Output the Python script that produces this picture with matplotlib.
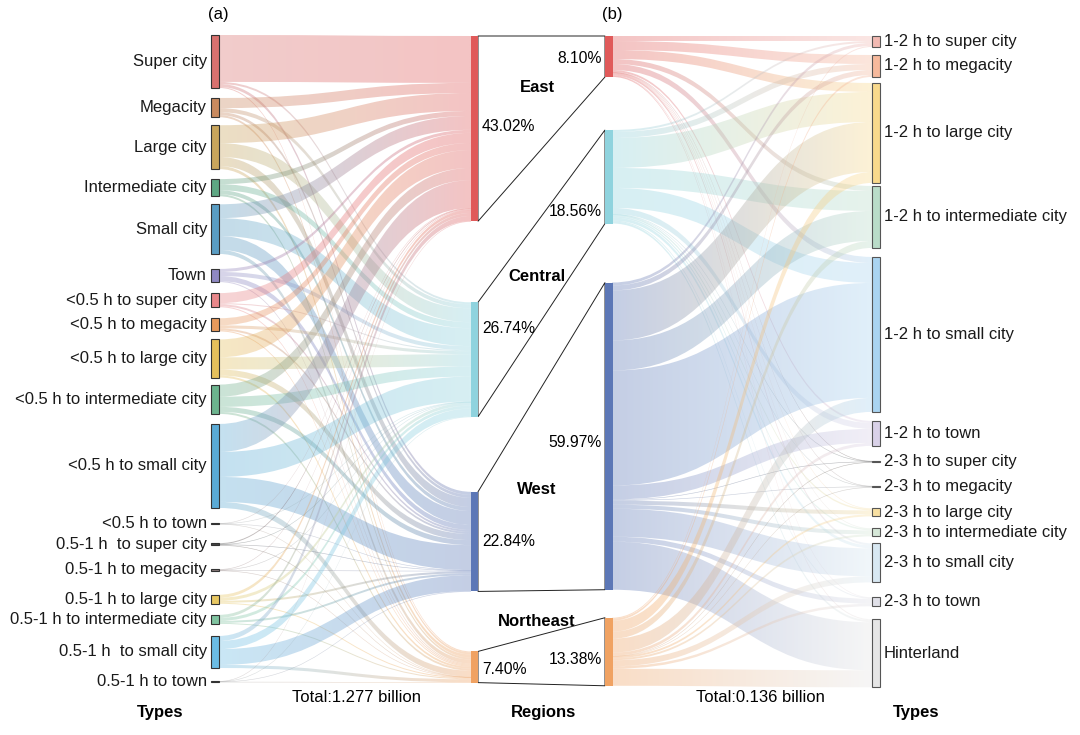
import numpy as np
import matplotlib
matplotlib.use('Agg')
from matplotlib import pyplot as plt
from matplotlib.path import Path
from matplotlib.patches import PathPatch, Rectangle, Polygon
from matplotlib.colors import to_rgb

plt.rcParams['font.family'] = ['Liberation Sans', 'DejaVu Sans']

# ---- data (million people) ----
left_types = ['Super city', 'Megacity', 'Large city', 'Intermediate city', 'Small city', 'Town',
              '<0.5 h to super city', '<0.5 h to megacity', '<0.5 h to large city',
              '<0.5 h to intermediate city', '<0.5 h to small city', '<0.5 h to town',
              '0.5-1 h  to super city', '0.5-1 h to megacity', '0.5-1 h to large city',
              '0.5-1 h to intermediate city', '0.5-1 h  to small city', '0.5-1 h to town']
regions = ['East', 'Central', 'West', 'Northeast']
right_types = ['1-2 h to super city', '1-2 h to megacity', '1-2 h to large city',
               '1-2 h to intermediate city', '1-2 h to small city', '1-2 h to town',
               '2-3 h to super city', '2-3 h to megacity', '2-3 h to large city',
               '2-3 h to intermediate city', '2-3 h to small city', '2-3 h to town', 'Hinterland']

# type -> region  (East, Central, West, Northeast)
left_flows = [
    [139, 6, 9, 3],
    [30, 12, 9, 6],
    [53, 41, 27, 9],
    [15, 18, 12, 6],
    [41, 53, 41, 12],
    [9, 12, 15, 3],
    [30, 3, 6, 3],
    [21, 9, 6, 3],
    [53, 36, 18, 6],
    [36, 30, 15, 6],
    [83, 74, 74, 18],
    [0.9, 0.6, 0.6, 0.3],
    [3, 0.9, 1.5, 0.6],
    [1.5, 1.2, 1.2, 0.6],
    [9, 9, 6, 3],
    [9, 9, 6, 3],
    [15, 24, 47, 9],
    [0.6, 0.6, 0.9, 0.9],
]
# region -> type
right_flows = [
    [1.33, 2.40, 2.40, 1.33, 1.60, 0.53, 0.08, 0.08, 0.13, 0.13, 0.53, 0.11, 0.27],
    [0.53, 1.60, 8.00, 5.33, 5.33, 1.60, 0.08, 0.08, 0.40, 0.40, 0.80, 0.27, 0.53],
    [0.80, 1.33, 13.33, 8.00, 30.67, 3.73, 0.16, 0.16, 1.07, 1.07, 7.47, 1.33, 12.80],
    [0.27, 0.53, 2.93, 1.87, 3.73, 0.80, 0.08, 0.08, 0.53, 0.53, 1.60, 0.67, 4.53],
]
left_pct = ['43.02%', '26.74%', '22.84%', '7.40%']
right_pct = ['8.10%', '18.56%', '59.97%', '13.38%']
total_left = 'Total:1.277 billion'
total_right = 'Total:0.136 billion'

# ---- styles / layout ----
left_colors = ['#d9716f', '#c98a5f', '#c8a55c', '#5ea783', '#5a9dc3', '#8f88c2',
               '#e8878a', '#e89a5c', '#e5c05c', '#6cb48e', '#5aaad5', '#999999',
               '#444444', '#8a7a7a', '#e8c862', '#80c4a0', '#6bbce4', '#999999']
region_colors = ['#e05a5a', '#8fd3de', '#5c77b6', '#f0a262']
right_colors = ['#f2b9b2', '#f6b99c', '#f8d98c', '#b9dcc8', '#aad4f1', '#d9d1e8',
                '#444444', '#888888', '#f8e0a2', '#d6e8d8', '#d8e8f2', '#e0e0e8', '#e6e6e6']

left_scale = 0.3375
right_scale = 3.75
left_gaps = [10, 8, 10, 8, 15, 11, 11, 8, 7, 10, 15, 19, 24, 24, 11, 12, 13]
lreg_gaps = [81, 75, 60]
rreg_gaps = [53, 59, 28]
right_gaps = [8, 6, 3, 9, 9, 15, 23.5, 21, 12, 7, 15, 13]
x_lt, x_lr, x_rr, x_rt = 211, 471, 605, 872
w_node, w_reg = 8, 7
alpha = 0.36
fs = 12


def stack(values, top, gaps, scale, min_h=1.2):
    tops, hs = [], []
    y = top
    for i, v in enumerate(values):
        h = max(v * scale, min_h)
        tops.append(y)
        hs.append(h)
        if i < len(gaps):
            y += h + gaps[i]
    return tops, hs


def link(ax, x0, a0, b0, x1, a1, b1, c0, c1):
    if b0 - a0 < 0.6:
        b0 = a0 + 0.6
    if b1 - a1 < 0.6:
        b1 = a1 + 0.6
    xm = (x0 + x1) / 2
    verts = [(x0, a0), (xm, a0), (xm, a1), (x1, a1), (x1, b1), (xm, b1), (xm, b0), (x0, b0), (x0, a0)]
    codes = [Path.MOVETO, Path.CURVE4, Path.CURVE4, Path.CURVE4, Path.LINETO,
             Path.CURVE4, Path.CURVE4, Path.CURVE4, Path.CLOSEPOLY]
    patch = PathPatch(Path(verts, codes), fc='none', ec='none')
    ax.add_patch(patch)
    t = np.linspace(0, 1, 64)[:, None]
    rgb = (1 - t) * np.array(to_rgb(c0)) + t * np.array(to_rgb(c1))
    img = np.concatenate([rgb, np.full((64, 1), alpha)], axis=1)[None, :, :]
    im = ax.imshow(img, extent=(x0, x1, max(b0, b1) + 1, min(a0, a1) - 1),
                   aspect='auto', interpolation='bilinear', zorder=1)
    im.set_clip_path(patch)


fig = plt.figure(figsize=(10.8, 7.35), dpi=100)
ax = fig.add_axes([0, 0, 1, 1])

lf = np.array(left_flows)
rf = np.array(right_flows)

lt_tops, lt_h = stack(lf.sum(axis=1), 35, left_gaps, left_scale)
lr_tops, lr_h = stack(lf.sum(axis=0), 36, lreg_gaps, left_scale)
rr_tops, rr_h = stack(rf.sum(axis=1), 36, rreg_gaps, right_scale)
rt_tops, rt_h = stack(rf.sum(axis=0), 36, right_gaps, right_scale, min_h=1.5)

# left links
src_off = [t + max(0, (h - lf[i].sum() * left_scale) / 2) for i, (t, h) in enumerate(zip(lt_tops, lt_h))]
dst_off = list(lr_tops)
for i in range(len(left_types)):
    for j in range(len(regions)):
        w = lf[i, j] * left_scale
        link(ax, x_lt + w_node, src_off[i], src_off[i] + w, x_lr, dst_off[j], dst_off[j] + w,
             left_colors[i], region_colors[j])
        src_off[i] += w
        dst_off[j] += w

# right links
src_off = list(rr_tops)
dst_off = [t + max(0, (h - rf[:, k].sum() * right_scale) / 2) for k, (t, h) in enumerate(zip(rt_tops, rt_h))]
for j in range(len(regions)):
    for k in range(len(right_types)):
        w = rf[j, k] * right_scale
        link(ax, x_rr + w_reg, src_off[j], src_off[j] + w, x_rt, dst_off[k], dst_off[k] + w,
             region_colors[j], right_colors[k])
        src_off[j] += w
        dst_off[k] += w

# region connecting polygons
for j in range(len(regions)):
    poly = Polygon([(x_lr + w_reg, lr_tops[j]), (x_rr, rr_tops[j]),
                    (x_rr, rr_tops[j] + rr_h[j]), (x_lr + w_reg, lr_tops[j] + lr_h[j])],
                   closed=True, fc='white', ec='#222222', lw=0.7, zorder=2)
    ax.add_patch(poly)

# nodes
for i, name in enumerate(left_types):
    ax.add_patch(Rectangle((x_lt, lt_tops[i]), w_node, lt_h[i], fc=left_colors[i],
                           ec='#333333', lw=0.8, zorder=4))
    ax.text(x_lt - 4, lt_tops[i] + lt_h[i] / 2, name, ha='right', va='center', fontsize=fs, color='#1a1a1a')
for j in range(len(regions)):
    ax.add_patch(Rectangle((x_lr, lr_tops[j]), w_reg, lr_h[j], fc=region_colors[j], ec='none', zorder=4))
    ax.add_patch(Rectangle((x_rr, rr_tops[j]), w_reg + 1, rr_h[j], fc=region_colors[j], ec='none', zorder=4))
for k, name in enumerate(right_types):
    ax.add_patch(Rectangle((x_rt, rt_tops[k]), w_node, rt_h[k], fc=right_colors[k],
                           ec='#555555', lw=0.8, zorder=4))
    ax.text(x_rt + w_node + 4, rt_tops[k] + rt_h[k] / 2, name, ha='left', va='center', fontsize=fs, color='#1a1a1a')

# region labels and percentages
region_label_y = [87, 276, 489, 621]
lpct_y = [126, 328, 541, 669]
rpct_y = [58, 211, 442, 659]
for j, name in enumerate(regions):
    ax.text(537, region_label_y[j], name, ha='center', va='center', fontsize=fs, fontweight='bold', zorder=5)
    ax.text(x_lr + w_reg + 4, lpct_y[j], left_pct[j], ha='left', va='center', fontsize=11.3, zorder=5)
    ax.text(x_rr - 3, rpct_y[j], right_pct[j], ha='right', va='center', fontsize=11.3, zorder=5)

ax.text(218, 14, '(a)', ha='center', va='center', fontsize=fs)
ax.text(612, 14, '(b)', ha='center', va='center', fontsize=fs)
ax.text(356, 697, total_left, ha='center', va='center', fontsize=fs)
ax.text(760, 697, total_right, ha='center', va='center', fontsize=fs)
ax.text(160, 713, 'Types', ha='center', va='center', fontsize=fs, fontweight='bold')
ax.text(543, 713, 'Regions', ha='center', va='center', fontsize=fs, fontweight='bold')
ax.text(916, 713, 'Types', ha='center', va='center', fontsize=fs, fontweight='bold')

ax.set_xlim(0, 1080)
ax.set_ylim(735, 0)
ax.axis('off')
fig.savefig('out.png', dpi=100, facecolor='white')
